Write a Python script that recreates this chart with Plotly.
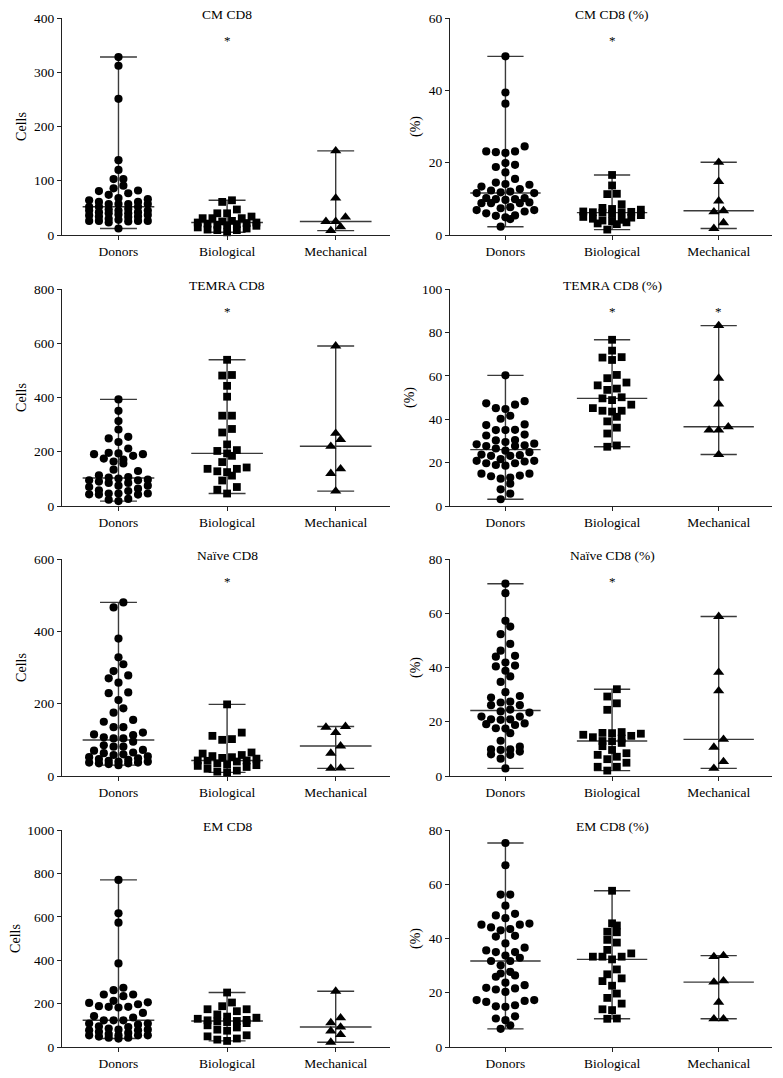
import numpy as np
import plotly.graph_objects as go

categories = ["Donors", "Biological", "Mechanical"]

# CM CD8 (cells)
cm_cells_donors = [328, 312, 251, 138, 120, 103, 103, 91, 86, 82, 81, 77, 74, 68, 66, 64, 61, 61, 57, 57,
                   57, 57, 52, 52, 52, 48, 47, 45, 45, 45, 42, 42, 40, 40, 38, 37, 36, 34, 34, 33,
                   30, 28, 26, 26, 26, 26, 25, 23, 12]
cm_cells_bio = [64, 61, 47, 40, 40, 34, 31, 31, 31, 26, 25, 23, 23, 22, 21, 20, 19, 18, 17, 14, 12, 10, 9, 9, 5]
cm_cells_mech = [155, 68, 33, 25, 25, 15, 8]

# CM CD8 (%)
cm_pct_donors = [49.4, 39.4, 36.3, 24.5, 23.1, 23.1, 22.9, 22.7, 19.9, 19.4, 18.8, 17.3, 15.5, 14.5, 14.1,
                 13.9, 13.4, 12.7, 12.3, 12.0, 11.8, 11.6, 11.6, 10.2, 10.2, 9.9, 9.9, 9.7, 9.0, 8.8,
                 8.8, 8.8, 7.7, 7.4, 6.9, 6.9, 6.5, 6.0, 5.4, 5.3, 4.9, 4.4, 2.3]
cm_pct_bio = [16.6, 13.7, 11.3, 11.4, 8.5, 7.5, 7.2, 7.0, 6.5, 6.4, 6.3, 6.2, 6.3, 5.8, 5.5, 5.0, 4.8, 4.5,
              4.2, 4.0, 3.8, 3.5, 3.2, 3.0, 1.5]
cm_pct_mech = [20.1, 14.8, 9.4, 6.7, 6.4, 3.4, 1.8]

# TEMRA CD8 (cells)
temra_cells_donors = [393, 351, 313, 282, 255, 249, 236, 212, 196, 194, 191, 191, 185, 175, 171, 164, 157,
                      134, 129, 113, 107, 105, 101, 97, 95, 95, 90, 85, 85, 75, 75, 70, 64, 58, 55, 46,
                      46, 46, 43, 42, 42, 26, 23, 18]
temra_cells_bio = [539, 483, 481, 443, 403, 333, 333, 284, 271, 227, 206, 203, 194, 185, 162, 142, 137, 137,
                   128, 125, 112, 94, 70, 60, 46]
temra_cells_mech = [590, 268, 245, 220, 137, 120, 55]

# TEMRA CD8 (%)
temra_pct_donors = [60.2, 48.3, 47.3, 46.7, 45.1, 44.7, 41.6, 40.2, 37.6, 37.3, 35.1, 35.0, 35.0, 32.9, 32.5,
                    30.4, 30.2, 29.5, 28.7, 28.4, 28.0, 27.6, 27.6, 26.5, 25.5, 24.8, 23.7, 23.4, 23.1,
                    23.1, 21.6, 20.8, 20.8, 20.5, 19.7, 19.7, 18.9, 18.6, 14.9, 14.9, 14.0, 13.7, 13.1,
                    12.6, 10.3, 7.7, 5.7, 3.1]
temra_pct_bio = [76.6, 71.6, 68.6, 68.4, 67.3, 60.4, 58.9, 56.9, 55.6, 54.1, 53.5, 50.1, 49.6, 48.8, 46.7,
                 45.1, 43.9, 43.9, 43.5, 41.1, 39.0, 36.1, 33.4, 27.9, 27.3]
temra_pct_mech = [83.1, 58.9, 47.0, 36.5, 35.0, 35.0, 23.7]

# Naive CD8 (cells)
naive_cells_donors = [480, 466, 380, 328, 309, 290, 278, 270, 258, 231, 229, 210, 187, 175, 155, 150, 135,
                      135, 120, 115, 113, 107, 104, 104, 95, 85, 81, 81, 72, 70, 65, 63, 60, 58, 54, 52,
                      49, 47, 45, 42, 40, 40, 37, 37, 35, 35, 33, 30]
naive_cells_bio = [198, 120, 111, 102, 100, 65, 62, 58, 55, 52, 50, 48, 43, 43, 42, 40, 35, 32, 30, 28, 25,
                   20, 15, 12, 10]
naive_cells_mech = [137, 135, 120, 83, 63, 22, 21]

# Naive CD8 (%)
naive_pct_donors = [70.9, 67.4, 57.2, 55.1, 52.3, 48.7, 46.2, 44.3, 44.0, 41.8, 40.7, 40.4, 38.8, 36.7, 34.7,
                    30.9, 29.5, 28.9, 27.4, 27.1, 26.1, 26.1, 24.5, 23.8, 23.4, 21.9, 21.9, 20.9, 20.9,
                    20.7, 19.4, 19.1, 18.8, 17.6, 17.5, 15.8, 13.0, 10.8, 9.8, 9.8, 9.6, 9.0, 8.0, 7.8,
                    6.4, 2.8]
naive_pct_bio = [32.0, 29.3, 26.8, 24.4, 16.2, 15.9, 15.8, 15.6, 15.2, 14.8, 14.3, 13.8, 12.9, 12.8, 12.2,
                 11.0, 9.6, 8.4, 7.8, 7.1, 6.2, 4.9, 3.4, 3.4, 2.0]
naive_pct_mech = [58.8, 38.2, 31.4, 13.5, 10.6, 5.3, 2.8]

# EM CD8 (cells)
em_cells_donors = [770, 616, 573, 385, 273, 262, 242, 242, 234, 213, 206, 203, 197, 188, 185, 185, 182, 157,
                   142, 136, 123, 123, 123, 108, 108, 103, 95, 92, 85, 80, 80, 77, 77, 70, 65, 60, 54, 54,
                   54, 54, 48, 43, 43, 39]
em_cells_bio = [251, 205, 188, 174, 174, 165, 150, 140, 135, 130, 125, 123, 120, 118, 115, 110, 100, 90, 80,
                75, 54, 49, 39, 34, 28]
em_cells_mech = [257, 134, 112, 92, 74, 57, 22]

# EM CD8 (%)
em_pct_donors = [75.2, 67.0, 56.2, 56.2, 52.1, 49.1, 48.5, 47.5, 45.5, 45.1, 45.1, 44.1, 43.5, 43.0, 41.0,
                 40.7, 38.2, 36.6, 35.6, 35.0, 35.0, 33.7, 32.9, 31.7, 31.7, 30.1, 27.7, 27.1, 26.4, 25.9,
                 23.7, 22.8, 21.8, 21.6, 21.2, 20.3, 17.3, 17.3, 17.0, 16.6, 15.4, 15.0, 14.8, 11.3, 10.5,
                 9.9, 8.0, 6.7]
em_pct_bio = [57.6, 45.6, 44.8, 42.5, 42.3, 39.5, 38.5, 35.8, 34.5, 33.3, 33.3, 33.3, 32.3, 28.6, 26.8, 25.3,
              24.3, 22.6, 19.7, 18.1, 16.0, 13.9, 13.6, 10.5, 10.4]
em_pct_mech = [33.7, 33.3, 24.4, 23.9, 16.5, 10.4, 10.4]

panel_titles = ["CM CD8", "CM CD8 (%)", "TEMRA CD8", "TEMRA CD8 (%)",
                "Naïve CD8", "Naïve CD8 (%)", "EM CD8", "EM CD8 (%)"]
y_labels = ["Cells", "(%)", "Cells", "(%)", "Cells", "(%)", "Cells", "(%)"]
y_max = [400, 60, 800, 100, 600, 80, 1000, 80]
y_step = [100, 20, 200, 20, 200, 20, 200, 20]
significant = [[1], [1], [1], [1, 2], [1], [1], [], []]

panel_data = [
    [cm_cells_donors, cm_cells_bio, cm_cells_mech],
    [cm_pct_donors, cm_pct_bio, cm_pct_mech],
    [temra_cells_donors, temra_cells_bio, temra_cells_mech],
    [temra_pct_donors, temra_pct_bio, temra_pct_mech],
    [naive_cells_donors, naive_cells_bio, naive_cells_mech],
    [naive_pct_donors, naive_pct_bio, naive_pct_mech],
    [em_cells_donors, em_cells_bio, em_cells_mech],
    [em_pct_donors, em_pct_bio, em_pct_mech],
]

# ---------------- style / layout ----------------
W, H = 783, 1078
PAGE_OFF = 8                      # default body margin of the html page
FW, FH = W - PAGE_OFF, H - PAGE_OFF
FONT = "Liberation Serif"
col_px = [(62, 390), (450, 772)]                       # target screen pixels
row_px = [(18, 235), (289, 506), (559, 776), (830, 1047)]
X_RANGE = [-0.52, 2.5]
symbols = ["circle", "square", "triangle-up"]
msizes = [8.2, 7.8, 9.8]
DX = 0.09
BIN_PX = 8.0
MAX_PER_ROW = 7
LINE_COL = "#3a3a3a"


def swarm_offsets(values, ppu):
    """GraphPad-like row layout: points close in value are spread horizontally."""
    vals = np.asarray(values, float)
    order = np.argsort(vals, kind="stable")
    rows, cur, start = [], [], None
    for idx in order:
        v = vals[idx]
        if start is None or (v - start) * ppu >= BIN_PX or len(cur) >= MAX_PER_ROW:
            if cur:
                rows.append(cur)
            cur, start = [idx], v
        else:
            cur.append(idx)
    if cur:
        rows.append(cur)
    offs = np.zeros(len(vals))
    for row in rows:
        n = len(row)
        slots = [(k - (n - 1) / 2.0) * DX for k in range(n)]
        slots = sorted(slots, key=lambda s: (abs(s), s))
        for idx, s in zip(row, slots):
            offs[idx] = s
    return offs


fig = go.Figure()
annotations = []
for p in range(8):
    r, c = divmod(p, 2)
    n = p + 1
    xa = "x" if n == 1 else f"x{n}"
    ya = "y" if n == 1 else f"y{n}"
    x0, x1 = col_px[c][0] - PAGE_OFF, col_px[c][1] - PAGE_OFF
    yt, yb = row_px[r][0] - PAGE_OFF, row_px[r][1] - PAGE_OFF
    ppu = (yb - yt) / y_max[p]

    for g, vals in enumerate(panel_data[p]):
        v = np.asarray(vals, float)
        med, lo, hi = float(np.median(v)), float(v.min()), float(v.max())
        fig.add_trace(go.Scatter(
            x=[g, g, None, g - 0.17, g + 0.17, None, g - 0.17, g + 0.17, None, g - 0.33, g + 0.33],
            y=[lo, hi, None, lo, lo, None, hi, hi, None, med, med],
            mode="lines", line=dict(color=LINE_COL, width=1.4),
            xaxis=xa, yaxis=ya, hoverinfo="skip", showlegend=False, cliponaxis=False))
        offs = swarm_offsets(v, ppu)
        fig.add_trace(go.Scatter(
            x=g + offs, y=v, mode="markers",
            marker=dict(symbol=symbols[g], size=msizes[g], color="black", line=dict(width=0)),
            xaxis=xa, yaxis=ya, showlegend=False, cliponaxis=False,
            name=categories[g]))

    xdom = [x0 / FW, x1 / FW]
    ydom = [1 - yb / FH, 1 - yt / FH]
    fig.layout[f"xaxis{n}" if n > 1 else "xaxis"] = dict(
        domain=xdom, anchor=ya, range=X_RANGE, tickmode="array", tickvals=[0, 1, 2],
        ticktext=categories, showline=True, linecolor="#222", linewidth=1.2,
        ticks="outside", ticklen=4, tickcolor="#222", showgrid=False, zeroline=False,
        automargin=False,
        tickfont=dict(family=FONT, size=13.5, color="black"), fixedrange=True)
    fig.layout[f"yaxis{n}" if n > 1 else "yaxis"] = dict(
        domain=ydom, anchor=xa, range=[0, y_max[p]], tickmode="linear", tick0=0, dtick=y_step[p],
        showline=True, linecolor="#222", linewidth=1.2, ticks="outside", ticklen=4,
        tickcolor="#222", showgrid=False, zeroline=False, automargin=False,
        tickfont=dict(family=FONT, size=13.5, color="black"),
        title=dict(text=y_labels[p], font=dict(family=FONT, size=14, color="black"), standoff=4),
        fixedrange=True)

    annotations.append(dict(
        text=panel_titles[p], x=1, xref=xa, y=1.015, yref=f"{ya} domain",
        xanchor="center", yanchor="middle", showarrow=False,
        font=dict(family=FONT, size=13.5, color="black")))
    for g in significant[p]:
        annotations.append(dict(
            text="*", x=g, xref=xa, y=0.895, yref=f"{ya} domain",
            xanchor="center", yanchor="middle", showarrow=False,
            font=dict(family=FONT, size=13, color="black")))

fig.update_layout(
    width=FW, height=FH, margin=dict(l=0, r=0, t=0, b=0, autoexpand=False),
    paper_bgcolor="white", plot_bgcolor="white",
    showlegend=False, annotations=annotations,
    font=dict(family=FONT, color="black"))

fig.write_html("out.html")
